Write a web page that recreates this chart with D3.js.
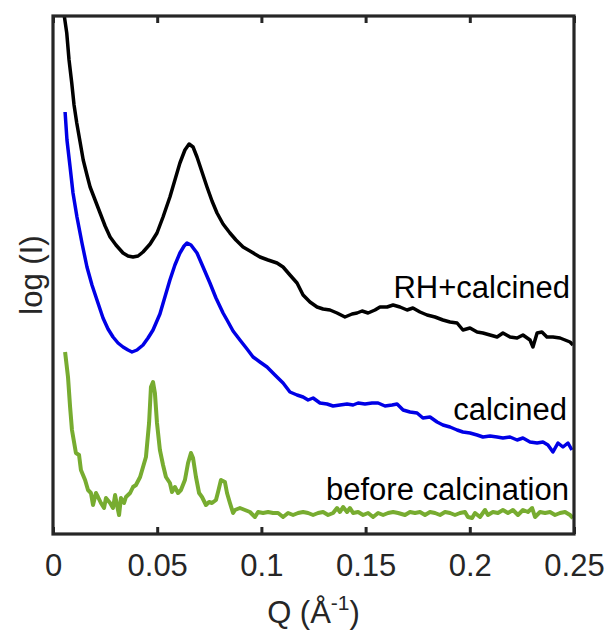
<!DOCTYPE html>
<html>
<head>
<meta charset="utf-8">
<script src="https://cdn.jsdelivr.net/npm/d3@7"></script>
<style>
  body { margin: 0; background: #fff; }
  text { font-family: "Liberation Sans", Arial, sans-serif; }
</style>
</head>
<body>
<script>
// ---- data (Q in 1/A, log(I) in arbitrary units) ----
const xTicks = [0, 0.05, 0.1, 0.15, 0.2, 0.25];

const qRH = [0.0050,0.0066,0.0077,0.0090,0.0101,0.0114,0.0130,0.0145,0.0163,0.0178,0.0202,0.0226,0.0250,0.0274,0.0302,0.0336,0.0360,0.0384,0.0408,0.0432,0.0466,0.0499,0.0528,0.0561,0.0585,0.0609,0.0633,0.0653,0.0672,0.0691,0.0715,0.0739,0.0763,0.0787,0.0816,0.0849,0.0878,0.0912,0.0945,0.0993,0.1032,0.1075,0.1104,0.1137,0.1171,0.1200,0.1233,0.1267,0.1296,0.1329,0.1363,0.1401,0.1435,0.1459,0.1483,0.1512,0.1545,0.1569,0.1603,0.1632,0.1665,0.1699,0.1727,0.1761,0.1795,0.1833,0.1871,0.1905,0.1939,0.1967,0.2001,0.2035,0.2063,0.2097,0.2131,0.2159,0.2193,0.2227,0.2255,0.2289,0.2303,0.2323,0.2346,0.2370,0.2399,0.2433,0.2457,0.2481,0.2495];
const logRH = [5.24,5.01,4.74,4.51,4.29,4.11,3.92,3.74,3.59,3.47,3.34,3.21,3.08,2.97,2.89,2.81,2.78,2.77,2.78,2.82,2.90,3.01,3.17,3.37,3.54,3.71,3.84,3.90,3.87,3.77,3.62,3.47,3.33,3.21,3.10,3.01,2.94,2.87,2.83,2.77,2.74,2.71,2.67,2.59,2.51,2.39,2.32,2.27,2.25,2.24,2.21,2.17,2.20,2.21,2.23,2.21,2.24,2.27,2.27,2.29,2.27,2.24,2.26,2.22,2.19,2.17,2.14,2.12,2.11,2.04,2.06,2.02,2.01,1.99,1.97,2.01,1.97,1.96,1.99,1.94,1.87,2.01,2.02,1.97,1.97,1.96,1.94,1.92,1.89];

const qCalc = [0.0058,0.0067,0.0082,0.0096,0.0115,0.0139,0.0163,0.0187,0.0211,0.0240,0.0264,0.0288,0.0312,0.0336,0.0360,0.0379,0.0403,0.0432,0.0456,0.0480,0.0513,0.0537,0.0561,0.0585,0.0609,0.0629,0.0643,0.0662,0.0691,0.0720,0.0753,0.0782,0.0816,0.0835,0.0864,0.0897,0.0931,0.0960,0.0993,0.1027,0.1065,0.1104,0.1137,0.1171,0.1200,0.1224,0.1248,0.1281,0.1315,0.1344,0.1377,0.1411,0.1440,0.1464,0.1497,0.1531,0.1560,0.1593,0.1627,0.1651,0.1680,0.1713,0.1747,0.1775,0.1809,0.1843,0.1871,0.1905,0.1939,0.1967,0.2001,0.2035,0.2063,0.2097,0.2131,0.2159,0.2193,0.2227,0.2255,0.2289,0.2323,0.2351,0.2375,0.2399,0.2423,0.2447,0.2471,0.2490];
const logCalc = [4.22,3.94,3.67,3.41,3.17,2.91,2.67,2.49,2.34,2.16,2.05,1.97,1.91,1.87,1.84,1.82,1.84,1.89,1.96,2.04,2.20,2.37,2.54,2.69,2.81,2.88,2.91,2.89,2.81,2.67,2.51,2.36,2.21,2.14,2.03,1.94,1.85,1.77,1.72,1.67,1.59,1.51,1.42,1.39,1.37,1.34,1.36,1.31,1.30,1.28,1.29,1.30,1.29,1.31,1.30,1.31,1.31,1.28,1.29,1.30,1.24,1.22,1.21,1.16,1.17,1.12,1.09,1.07,1.04,1.02,1.01,0.99,0.97,0.98,0.97,0.96,0.97,0.94,0.96,0.92,0.91,0.92,0.89,0.82,0.91,0.87,0.91,0.84];

const qBefore = [0.0058,0.0072,0.0082,0.0091,0.0110,0.0125,0.0134,0.0154,0.0168,0.0182,0.0192,0.0206,0.0216,0.0230,0.0245,0.0254,0.0274,0.0288,0.0298,0.0307,0.0317,0.0326,0.0341,0.0350,0.0370,0.0384,0.0398,0.0418,0.0432,0.0446,0.0461,0.0470,0.0480,0.0489,0.0499,0.0513,0.0528,0.0542,0.0561,0.0571,0.0585,0.0600,0.0614,0.0633,0.0648,0.0662,0.0672,0.0686,0.0701,0.0715,0.0734,0.0749,0.0763,0.0782,0.0792,0.0806,0.0825,0.0835,0.0849,0.0864,0.0873,0.0897,0.0921,0.0945,0.0969,0.0984,0.1008,0.1032,0.1056,0.1080,0.1104,0.1128,0.1152,0.1176,0.1200,0.1224,0.1248,0.1272,0.1296,0.1320,0.1344,0.1363,0.1377,0.1392,0.1411,0.1425,0.1440,0.1464,0.1488,0.1512,0.1536,0.1560,0.1584,0.1608,0.1632,0.1656,0.1689,0.1713,0.1737,0.1761,0.1785,0.1809,0.1833,0.1857,0.1881,0.1905,0.1929,0.1953,0.1977,0.1991,0.2011,0.2025,0.2049,0.2073,0.2087,0.2111,0.2135,0.2159,0.2183,0.2207,0.2231,0.2255,0.2279,0.2299,0.2313,0.2337,0.2361,0.2385,0.2409,0.2433,0.2457,0.2481,0.2495];
const logBefore = [1.82,1.57,1.27,1.04,0.81,0.79,0.64,0.54,0.44,0.41,0.29,0.41,0.37,0.31,0.26,0.36,0.31,0.26,0.39,0.29,0.19,0.36,0.31,0.37,0.41,0.47,0.49,0.57,0.67,0.77,1.11,1.47,1.52,1.41,1.11,0.84,0.69,0.57,0.51,0.42,0.47,0.41,0.44,0.54,0.71,0.81,0.76,0.57,0.41,0.37,0.29,0.32,0.31,0.34,0.42,0.54,0.52,0.41,0.31,0.21,0.24,0.26,0.24,0.22,0.17,0.22,0.21,0.22,0.21,0.21,0.17,0.21,0.19,0.21,0.22,0.21,0.19,0.21,0.22,0.19,0.21,0.26,0.22,0.27,0.22,0.26,0.21,0.22,0.19,0.21,0.17,0.21,0.19,0.21,0.22,0.21,0.19,0.22,0.21,0.22,0.19,0.22,0.21,0.19,0.22,0.21,0.19,0.21,0.22,0.17,0.16,0.21,0.17,0.24,0.19,0.22,0.21,0.24,0.21,0.24,0.19,0.24,0.22,0.26,0.17,0.22,0.21,0.22,0.19,0.21,0.22,0.19,0.16];

const seriesNames = ['RH+calcined', 'calcined', 'before calcination'];
const seriesColors = ['#000000', '#0000e6', '#77ac30'];
const labelQ = [0.2481, 0.2466, 0.2476];
const labelLog = [2.36, 1.14, 0.34];

// ---------- layout ----------
const width = 606, height = 631;
const m = { left: 53, right: 574, top: 16, bottom: 534 };
const fontSize = '31px';

const x = d3.scaleLinear().domain([0, 0.25]).range([m.left, m.right]);
const y = d3.scaleLinear().domain([0, 5.18]).range([m.bottom, m.top]);

const svg = d3.select('body').append('svg')
  .attr('width', width)
  .attr('height', height);

svg.append('clipPath').attr('id', 'plot-clip')
  .append('rect')
  .attr('x', m.left).attr('y', m.top)
  .attr('width', m.right - m.left).attr('height', m.bottom - m.top);

const line = d3.line()
  .x(d => x(d[0]))
  .y(d => y(d[1]));

const series = [
  d3.zip(qRH, logRH),
  d3.zip(qCalc, logCalc),
  d3.zip(qBefore, logBefore)
];
const widths = [3.5, 3.5, 4];

svg.append('g').attr('clip-path', 'url(#plot-clip)')
  .selectAll('path')
  .data(series)
  .join('path')
  .attr('d', line)
  .attr('fill', 'none')
  .attr('stroke', (d, i) => seriesColors[i])
  .attr('stroke-width', (d, i) => widths[i])
  .attr('stroke-linejoin', 'round');

// curve labels
svg.append('g').selectAll('text')
  .data(seriesNames)
  .join('text')
  .attr('x', (d, i) => x(labelQ[i]))
  .attr('y', (d, i) => y(labelLog[i]))
  .attr('text-anchor', 'end')
  .style('font-size', fontSize)
  .attr('fill', '#000')
  .text(d => d);

// ---------- axes ----------
const axisColor = '#262626';

const xAxis = svg.append('g')
  .attr('transform', `translate(0,${m.bottom})`)
  .call(d3.axisBottom(x).tickValues(xTicks).tickFormat(d3.format('~g'))
    .tickSizeInner(-7).tickSizeOuter(0).tickPadding(20));
xAxis.select('.domain').remove();
xAxis.selectAll('line').attr('stroke', axisColor).attr('stroke-width', 3);
xAxis.selectAll('text').attr('fill', axisColor).style('font-size', fontSize);

const xTop = svg.append('g')
  .attr('transform', `translate(0,${m.top})`)
  .call(d3.axisTop(x).tickValues(xTicks).tickFormat('')
    .tickSizeInner(-7).tickSizeOuter(0));
xTop.select('.domain').remove();
xTop.selectAll('line').attr('stroke', axisColor).attr('stroke-width', 3);

svg.append('rect')
  .attr('x', m.left).attr('y', m.top)
  .attr('width', m.right - m.left).attr('height', m.bottom - m.top)
  .attr('fill', 'none')
  .attr('stroke', axisColor)
  .attr('stroke-width', 3.2);

// axis titles
const xt = svg.append('text')
  .attr('x', (m.left + m.right) / 2)
  .attr('y', 623)
  .attr('text-anchor', 'middle')
  .attr('fill', axisColor)
  .style('font-size', fontSize);
xt.append('tspan').text('Q (Å');
xt.append('tspan').attr('dy', -13).style('font-size', '21px').text('-1');
xt.append('tspan').attr('dy', 13).text(')');

svg.append('text')
  .attr('transform', `translate(42,${(m.top + m.bottom) / 2}) rotate(-90)`)
  .attr('text-anchor', 'middle')
  .attr('fill', axisColor)
  .style('font-size', fontSize)
  .text('log (I)');
</script>
</body>
</html>
